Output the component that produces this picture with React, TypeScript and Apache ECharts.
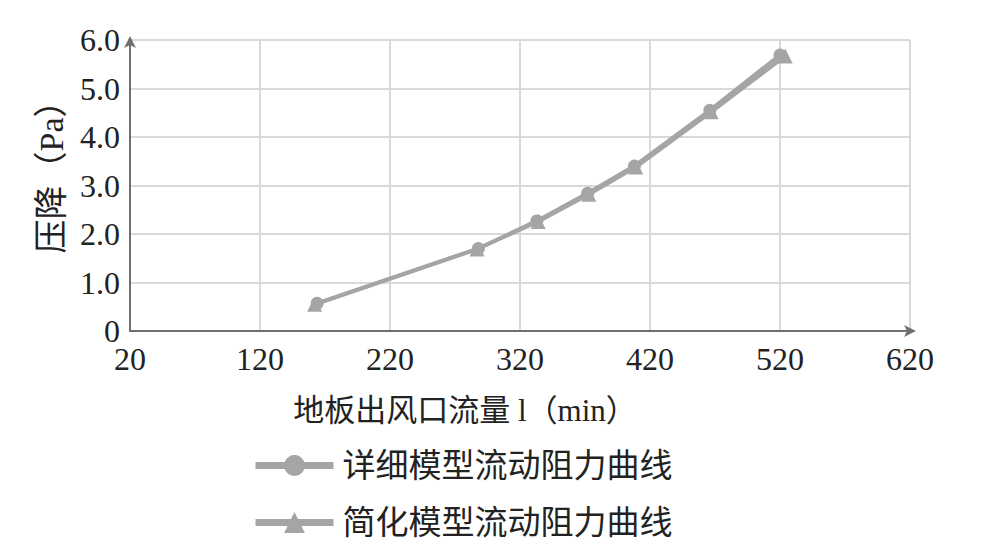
import React, { useEffect, useRef } from "react";
import * as echarts from "echarts";

const seriesNames = ["详细模型流动阻力曲线", "简化模型流动阻力曲线"];
const detailedFlow = [164, 288, 333, 372, 408, 466, 520];
const detailedDrop = [0.57, 1.7, 2.27, 2.84, 3.4, 4.55, 5.69];
const simplifiedFlow = [162, 287, 334, 373, 409, 467, 524];
const simplifiedDrop = [0.55, 1.69, 2.26, 2.82, 3.38, 4.52, 5.67];
const xAxisTitle = "地板出风口流量 l（min）";
const yAxisTitle = "压降（Pa）";

const FONT = '"Liberation Serif", "Noto Sans CJK SC", serif';
const LINE_COLOR = "#a5a5a5";

export default function App() {
  const ref = useRef<HTMLDivElement>(null);
  useEffect(() => {
    if (!ref.current) return;
    const chart = echarts.init(ref.current, undefined, { renderer: "svg" });
    const d1 = detailedFlow.map((x, i) => [x, detailedDrop[i]]);
    const d2 = simplifiedFlow.map((x, i) => [x, simplifiedDrop[i]]);
    chart.setOption({
      animation: false,
      backgroundColor: "#ffffff",
      grid: { left: 130, right: 78, top: 40, bottom: 229, containLabel: false },
      xAxis: {
        type: "value",
        min: 20,
        max: 620,
        interval: 100,
        name: xAxisTitle,
        nameLocation: "middle",
        nameGap: 64,
        nameTextStyle: { fontFamily: FONT, fontSize: 31, color: "#222", padding: [0, 110, 0, 0] },
        axisLine: {
          show: true,
          symbol: ["none", "arrow"],
          symbolSize: [9, 12],
          symbolOffset: [0, 6],
          lineStyle: { color: "#707070", width: 2 },
        },
        axisTick: { show: false },
        axisLabel: { fontFamily: FONT, fontSize: 32, color: "#222", margin: 12 },
        splitLine: { show: true, lineStyle: { color: "#d9d9d9", width: 2 } },
      },
      yAxis: {
        type: "value",
        min: 0,
        max: 6,
        interval: 1,
        name: yAxisTitle,
        nameLocation: "middle",
        nameGap: 62,
        nameRotate: 90,
        nameTextStyle: { fontFamily: FONT, fontSize: 34, color: "#222", padding: [0, 0, 0, 34] },
        axisLine: {
          show: true,
          symbol: ["none", "arrow"],
          symbolSize: [9, 12],
          symbolOffset: [0, 4],
          lineStyle: { color: "#707070", width: 2 },
        },
        axisTick: { show: false },
        axisLabel: {
          fontFamily: FONT,
          fontSize: 32,
          color: "#222",
          margin: 10,
          formatter: (v: number) => (v === 0 ? "0" : v.toFixed(1)),
        },
        splitLine: { show: true, lineStyle: { color: "#d9d9d9", width: 2 } },
      },
      legend: {
        orient: "vertical",
        left: 247,
        top: 444,
        itemWidth: 78,
        itemHeight: 26,
        itemGap: 24,
        lineStyle: { width: 7 },
        textStyle: { fontFamily: FONT, fontSize: 33, color: "#222", padding: [0, 0, 0, 4] },
        data: seriesNames,
      },
      series: [
        {
          name: seriesNames[0],
          type: "line",
          data: d1,
          symbol: "circle",
          symbolSize: 13,
          lineStyle: { color: LINE_COLOR, width: 4 },
          itemStyle: { color: LINE_COLOR },
        },
        {
          name: seriesNames[1],
          type: "line",
          data: d2,
          symbol: "triangle",
          symbolSize: 15,
          lineStyle: { color: LINE_COLOR, width: 4 },
          itemStyle: { color: LINE_COLOR },
        },
      ],
    });
    return () => chart.dispose();
  }, []);
  return (
    <div
      ref={ref}
      style={{ position: "fixed", left: 0, top: 0, width: 988, height: 560 }}
    />
  );
}
